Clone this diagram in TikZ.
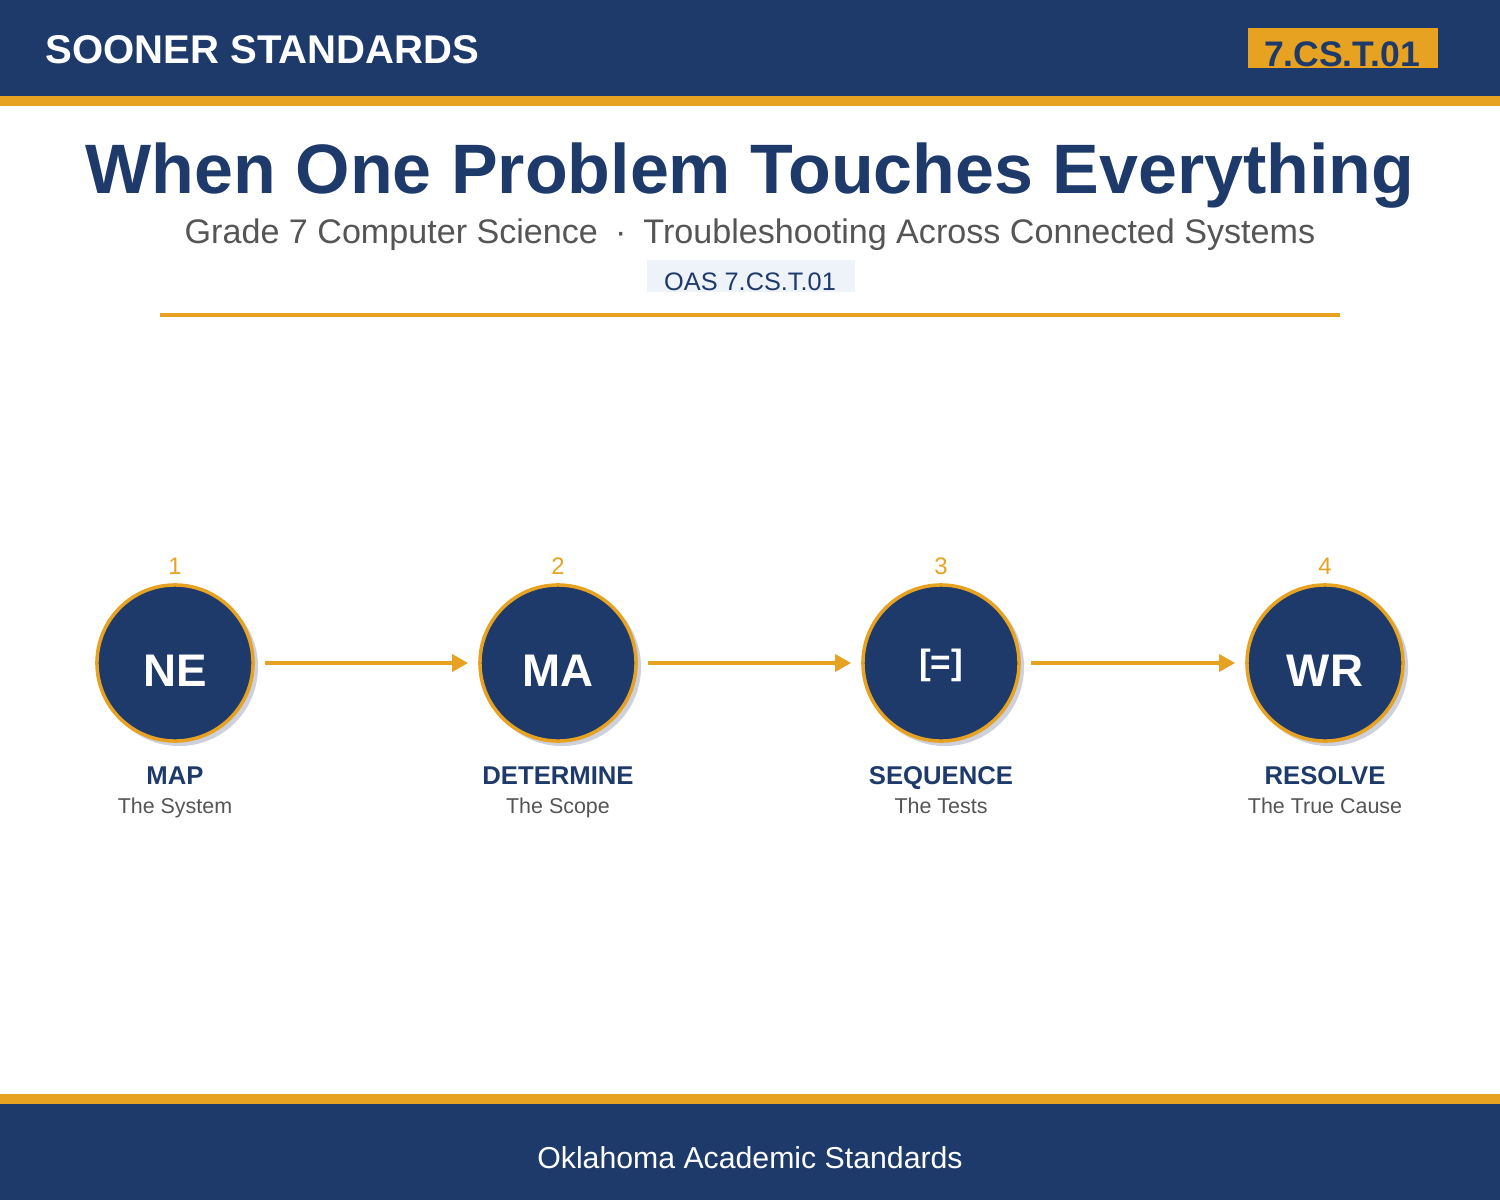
\documentclass[tikz,border=0pt]{standalone}
\usepackage{fontspec}
\setmainfont{Liberation Sans}
\usetikzlibrary{arrows.meta}

\definecolor{navy}{HTML}{1D3A6B}
\definecolor{gold}{HTML}{E8A222}
\definecolor{softgray}{HTML}{555555}
\definecolor{oasbg}{HTML}{EEF2F9}
\definecolor{shade}{HTML}{CDD1DE}

\tikzset{
  stepcirc/.style={circle, minimum size=1.56cm, inner sep=0pt, fill=navy, draw=gold, line width=1pt, text=white, text height=13.3pt, text depth=0pt, font=\fontsize{13}{15}\selectfont\bfseries},
  stepshade/.style={circle, minimum size=1.58cm, inner sep=0pt, fill=shade},
  stepnum/.style={anchor=base, text=gold, font=\fontsize{6.8}{8}\selectfont},
  stepname/.style={anchor=base, text=navy, font=\fontsize{7.3}{9}\selectfont\bfseries},
  stepsub/.style={anchor=base, text=softgray, font=\fontsize{6.1}{8}\selectfont},
  flow/.style={draw=gold, line width=1.15pt, -{Triangle[length=4.6pt,width=4.8pt]}, shorten <=0.1cm, shorten >=0.1cm}
}

\begin{document}
\begin{tikzpicture}[x=0.01cm, y=-0.01cm]
\useasboundingbox (0,0) rectangle (1500,1200);

% header
\fill [navy] (0,0) rectangle (1500,96);
\fill [gold] (0,96) rectangle (1500,106);
\node [anchor=base west, text=white, font=\fontsize{11.4}{13}\selectfont\bfseries, inner sep=0pt] (brand) at (45,64) {SOONER STANDARDS};
\node [fill=gold, minimum width=1.9cm, minimum height=0.4cm, inner sep=0pt] (badge) at (1343,48) {};
\node [anchor=base, text=navy, font=\fontsize{10.1}{12}\selectfont\bfseries, inner sep=0pt] (badgetext) at (1342,67) {7.CS.T.01};

% title block
\node [anchor=base, text=navy, font=\fontsize{19.9}{24}\selectfont\bfseries, inner sep=0pt] (title) at (750,193) {When One Problem Touches Everything};
\node [anchor=base, text=softgray, font=\fontsize{9.7}{12}\selectfont, inner sep=0pt] (subtitle) at (750,243) {Grade 7 Computer Science\hspace{0.5em}·\hspace{0.5em}Troubleshooting Across Connected Systems};
\node [fill=oasbg, minimum width=2.08cm, minimum height=0.32cm, inner sep=0pt] (oasbox) at (751,276) {};
\node [anchor=base, text=navy, font=\fontsize{7.2}{9}\selectfont, inner sep=0pt] (oastext) at (750,290) {OAS 7.CS.T.01};
\draw [gold, line width=1.1pt] (160,315) -- (1340,315);

% shadows
\node [stepshade] (ne-sh) at (179,667) {};
\node [stepshade] (ma-sh) at (562,667) {};
\node [stepshade] (sq-sh) at (945,667) {};
\node [stepshade] (wr-sh) at (1329,667) {};

% steps
\node [stepcirc] (ne) at (175,663) {NE};
\node [stepcirc] (ma) at (558,663) {MA};
\node [stepcirc, text height=9pt, text depth=2.2pt, font=\fontsize{10}{12}\selectfont\bfseries] (sq) at (941,663) {[=]};
\node [stepcirc] (wr) at (1325,663) {WR};

\node [stepnum] (n1) at (175,574) {1};
\node [stepnum] (n2) at (558,574) {2};
\node [stepnum] (n3) at (941,574) {3};
\node [stepnum] (n4) at (1325,574) {4};

\node [stepname] (l1) at (175,784) {MAP};
\node [stepname] (l2) at (558,784) {DETERMINE};
\node [stepname] (l3) at (941,784) {SEQUENCE};
\node [stepname] (l4) at (1325,784) {RESOLVE};

\node [stepsub] (s1) at (175,813) {The System};
\node [stepsub] (s2) at (558,813) {The Scope};
\node [stepsub] (s3) at (941,813) {The Tests};
\node [stepsub] (s4) at (1325,813) {The True Cause};

\draw [flow] (ne) -- (ma);
\draw [flow] (ma) -- (sq);
\draw [flow] (sq) -- (wr);

% footer
\fill [gold] (0,1094) rectangle (1500,1104);
\fill [navy] (0,1104) rectangle (1500,1200);
\node [anchor=base, text=white, font=\fontsize{8.6}{11}\selectfont, inner sep=0pt] (footer) at (750,1168) {Oklahoma Academic Standards};

\end{tikzpicture}
\end{document}
